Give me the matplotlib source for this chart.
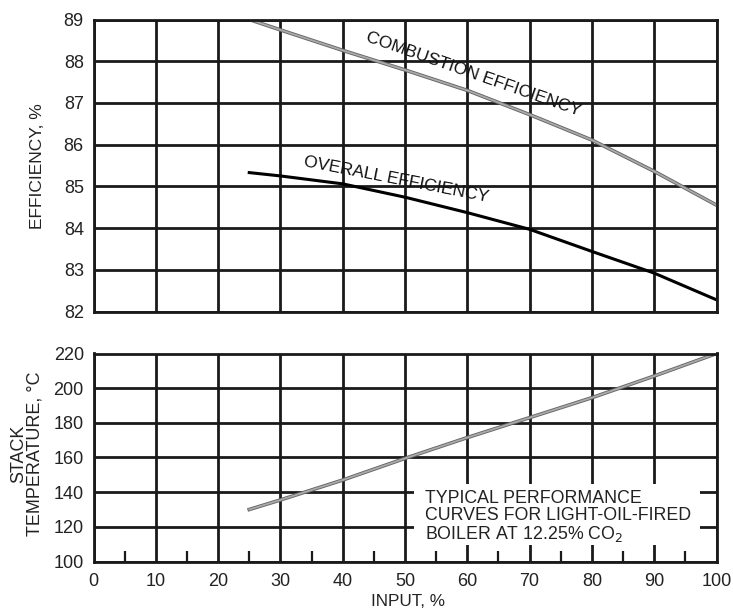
import matplotlib
matplotlib.use("Agg")
import matplotlib.pyplot as plt
from matplotlib.patches import Rectangle

plt.rcParams['font.family'] = ['Liberation Sans', 'DejaVu Sans']

# Data
input_pct = [25, 30, 40, 50, 60, 70, 80, 90, 100]
combustion_eff = [89.0, 88.75, 88.26, 87.79, 87.3, 86.72, 86.11, 85.36, 84.55]
overall_eff = [85.33, 85.25, 85.06, 84.74, 84.37, 83.97, 83.44, 82.92, 82.28]
stack_temp = [130, 135.5, 147, 159.5, 171.5, 183, 194.5, 207, 220]

x_ticks = list(range(0, 101, 10))
eff_ticks = list(range(82, 90))
temp_ticks = list(range(100, 221, 20))

W, H = 733, 611
fig = plt.figure(figsize=(W / 100, H / 100), dpi=100)

def ax_rect(l, t, r, b):
    return [l / W, 1 - b / H, (r - l) / W, (b - t) / H]

ax1 = fig.add_axes(ax_rect(93.5, 19.5, 716.5, 311.5))
ax2 = fig.add_axes(ax_rect(93.5, 353.5, 716.5, 561.5))

for ax in (ax1, ax2):
    ax.set_xlim(0, 100)
    ax.set_xticks(x_ticks)
    ax.grid(True, color='#1a1a1a', linewidth=2.0, zorder=1)
    ax.set_axisbelow(True)
    for s in ax.spines.values():
        s.set_linewidth(2.0)
        s.set_color('#1a1a1a')
        s.set_zorder(5)
    ax.tick_params(axis='both', length=0, labelsize=13, pad=7,
                   labelcolor='#222222')

# Top panel
ax1.set_ylim(82, 89)
ax1.set_yticks(eff_ticks)
ax1.tick_params(axis='x', labelbottom=False)
ax1.plot(input_pct, combustion_eff, color='#666666', linewidth=2.6, zorder=3)
ax1.plot(input_pct, combustion_eff, color='#aaaaaa', linewidth=1.3, zorder=3)
ax1.plot(input_pct, overall_eff, color='black', linewidth=2.2, zorder=3)
ax1.text(60.7, 87.58, 'COMBUSTION EFFICIENCY', rotation=-19.3, ha='center',
         va='baseline', fontsize=12.6, color='#111111', zorder=4,
         rotation_mode='anchor')
ax1.text(48.5, 85.05, 'OVERALL EFFICIENCY', rotation=-11.0, ha='center',
         va='baseline', fontsize=12.6, color='#111111', zorder=4,
         rotation_mode='anchor')

# Bottom panel
ax2.set_ylim(100, 220)
ax2.set_yticks(temp_ticks)
ax2.set_xticks(list(range(5, 100, 10)), minor=True)
ax2.tick_params(axis='x', which='minor', direction='in', length=8, width=1.6,
                bottom=True, top=False, color='#1a1a1a')
ax2.tick_params(axis='x', pad=8)
ax2.plot(input_pct, stack_temp, color='#666666', linewidth=2.6, zorder=3)
ax2.plot(input_pct, stack_temp, color='#aaaaaa', linewidth=1.3, zorder=3)
ax2.add_patch(Rectangle((51.4, 109.3), 45.9, 35.5, facecolor='white',
                        edgecolor='none', zorder=2))
ax2.text(53.2, 141.5, 'TYPICAL PERFORMANCE\nCURVES FOR LIGHT-OIL-FIRED\nBOILER AT 12.25% CO$_2$',
         ha='left', va='top', fontsize=12.8, linespacing=1.0,
         color='#222222', zorder=4)

fig.text(38 / W, 1 - 166 / H, 'EFFICIENCY, %', rotation=90, ha='center',
         va='center', fontsize=12.5, color='#222222')
fig.text(27 / W, 1 - 454 / H, 'STACK\nTEMPERATURE, °C', rotation=90,
         ha='center', va='center', fontsize=13, color='#222222',
         linespacing=0.97)
fig.text(408 / W, 1 - 602 / H, 'INPUT, %', ha='center', va='center',
         fontsize=12.3, color='#222222')

fig.savefig('out.png', dpi=100, facecolor='white')
